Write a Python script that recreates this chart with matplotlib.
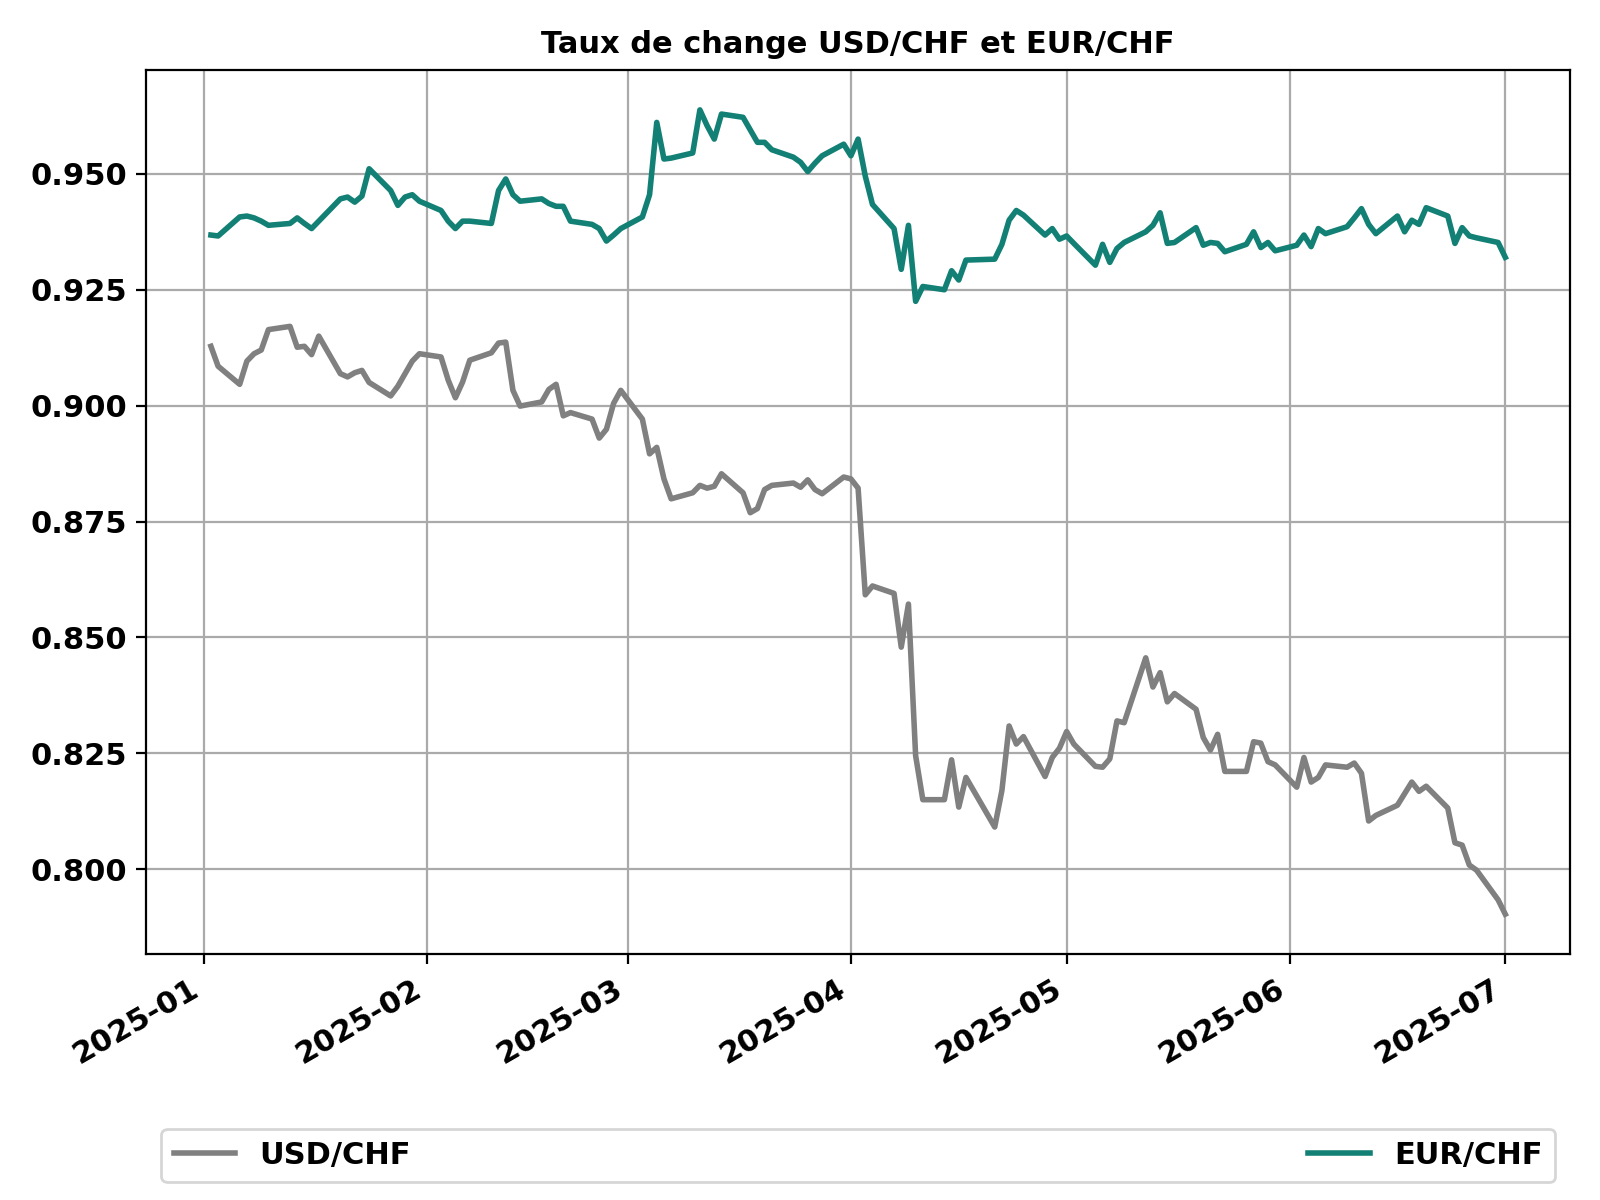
import matplotlib.pyplot as plt
import matplotlib.dates as mdates
import pandas as pd

plt.rcParams['font.weight'] = 'bold'
plt.rcParams['axes.titleweight'] = 'bold'

# business days, Good Friday removed
dates = pd.bdate_range('2025-01-02', '2025-07-01').drop(pd.Timestamp('2025-04-18'))

usd_chf = [
    0.9128, 0.9085, 0.9046, 0.9096, 0.9112, 0.9120, 0.9164, 0.9171, 0.9126, 0.9128, 0.9110, 0.9150,
    0.9069, 0.9062, 0.9071, 0.9076, 0.9050, 0.9021, 0.9042, 0.9069, 0.9096, 0.9112,
    0.9105, 0.9055, 0.9017, 0.9051, 0.9098, 0.9114, 0.9135, 0.9137, 0.9033, 0.8999,
    0.9008, 0.9035, 0.9046, 0.8978, 0.8985, 0.8971, 0.8930, 0.8949, 0.9005, 0.9033,
    0.8971, 0.8896, 0.8910, 0.8842, 0.8799, 0.8812, 0.8828, 0.8822, 0.8826, 0.8853,
    0.8812, 0.8769, 0.8778, 0.8819, 0.8828, 0.8833, 0.8824, 0.8840, 0.8819, 0.8810, 0.8846,
    0.8842, 0.8822, 0.8592, 0.8611, 0.8595, 0.8479, 0.8572, 0.8245, 0.8150, 0.8150,
    0.8236, 0.8134, 0.8198, 0.8091, 0.8170, 0.8309, 0.8270, 0.8286, 0.8200, 0.8241, 0.8261,
    0.8297, 0.8270, 0.8222, 0.8220, 0.8238, 0.8320, 0.8316, 0.8456, 0.8393, 0.8424,
    0.8361, 0.8379, 0.8345, 0.8284, 0.8257, 0.8291, 0.8211, 0.8211, 0.8275, 0.8272,
    0.8232, 0.8225,
    0.8177, 0.8241, 0.8188, 0.8198, 0.8225, 0.8220, 0.8229, 0.8207, 0.8104, 0.8116,
    0.8138, 0.8163, 0.8188, 0.8168, 0.8179, 0.8132, 0.8057, 0.8052, 0.8009, 0.7998,
    0.7934, 0.7903,
]

eur_chf = [
    0.9368, 0.9366, 0.9407, 0.9409, 0.9405, 0.9398, 0.9389, 0.9393, 0.9405, 0.9393, 0.9382, 0.9398,
    0.9446, 0.9450, 0.9439, 0.9452, 0.9511, 0.9464, 0.9432, 0.9450, 0.9455, 0.9441,
    0.9421, 0.9398, 0.9382, 0.9398, 0.9398, 0.9393, 0.9464, 0.9489, 0.9455, 0.9441,
    0.9446, 0.9436, 0.9430, 0.9430, 0.9398, 0.9391, 0.9382, 0.9355, 0.9368, 0.9382,
    0.9407, 0.9455, 0.9611, 0.9532, 0.9534, 0.9545, 0.9638, 0.9604, 0.9575, 0.9629,
    0.9622, 0.9595, 0.9568, 0.9568, 0.9552, 0.9536, 0.9525, 0.9505, 0.9523, 0.9539, 0.9564,
    0.9539, 0.9575, 0.9495, 0.9434, 0.9382, 0.9294, 0.9389, 0.9225, 0.9257, 0.9250,
    0.9291, 0.9271, 0.9314, 0.9316, 0.9348, 0.9400, 0.9421, 0.9411, 0.9368, 0.9382, 0.9359,
    0.9366, 0.9350, 0.9303, 0.9348, 0.9309, 0.9339, 0.9352, 0.9375, 0.9389, 0.9416,
    0.9350, 0.9352, 0.9384, 0.9346, 0.9352, 0.9350, 0.9332, 0.9348, 0.9375, 0.9341,
    0.9352, 0.9334,
    0.9346, 0.9368, 0.9343, 0.9382, 0.9371, 0.9386, 0.9405, 0.9425, 0.9391, 0.9371,
    0.9409, 0.9375, 0.9400, 0.9391, 0.9427, 0.9409, 0.9350, 0.9384, 0.9366, 0.9362,
    0.9352, 0.9320,
]

fig, ax = plt.subplots(figsize=(8, 6), dpi=200)
ax.plot(dates, usd_chf, color='#808080', lw=2, label='USD/CHF')
ax.plot(dates, eur_chf, color='#138075', lw=2, label='EUR/CHF')

ax.set_title('Taux de change USD/CHF et EUR/CHF', fontsize=11)
ax.xaxis.set_major_locator(mdates.MonthLocator())
ax.xaxis.set_major_formatter(mdates.DateFormatter('%Y-%m'))
ax.grid(True, color='#aaaaaa')
ax.tick_params(labelsize=11)
fig.autofmt_xdate()

ax.legend(loc='upper center', bbox_to_anchor=(0, -0.2, 1, 0.02), ncol=2,
          mode='expand', fontsize=11)

fig.tight_layout()
fig.savefig('out.png')
